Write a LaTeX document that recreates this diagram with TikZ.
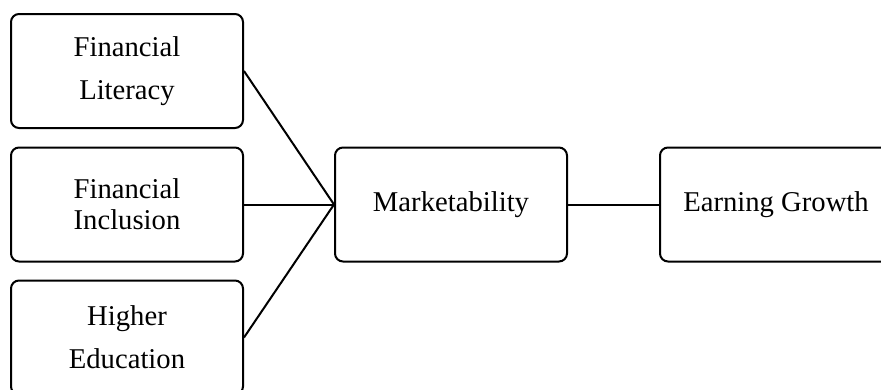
\documentclass[tikz,border=0pt]{standalone}
\usepackage{fontspec}
\setmainfont{Liberation Serif}
\begin{document}
\begin{tikzpicture}[x=0.75pt,y=-0.75pt,
  box/.style={draw=black,line width=1.5pt,rounded corners=6pt,minimum width=174pt,minimum height=85.5pt,inner sep=0pt,align=center,font=\fontsize{21.5}{32.3}\selectfont},
  tightbox/.style={box,font=\fontsize{21.5}{23.4}\selectfont},
  conn/.style={line width=1.5pt}]
\useasboundingbox (0,0) rectangle (881,389);
\clip (0,0) rectangle (881,389);
\node[box] (fl) at (127,71) {Financial\\Literacy};
\node[tightbox] (fi) at (127,204.5) {Financial\\Inclusion};
\node[box] (he) at (127,337.5) {Higher\\Education};
\node[box] (mk) at (451,204.5) {Marketability};
\node[box] (eg) at (776,204.5) {Earning Growth};
\draw[conn] (fl.east) -- (mk.west);
\draw[conn] (fi.east) -- (mk.west);
\draw[conn] (he.east) -- (mk.west);
\draw[conn] (mk.east) -- (eg.west);
\end{tikzpicture}
\end{document}
